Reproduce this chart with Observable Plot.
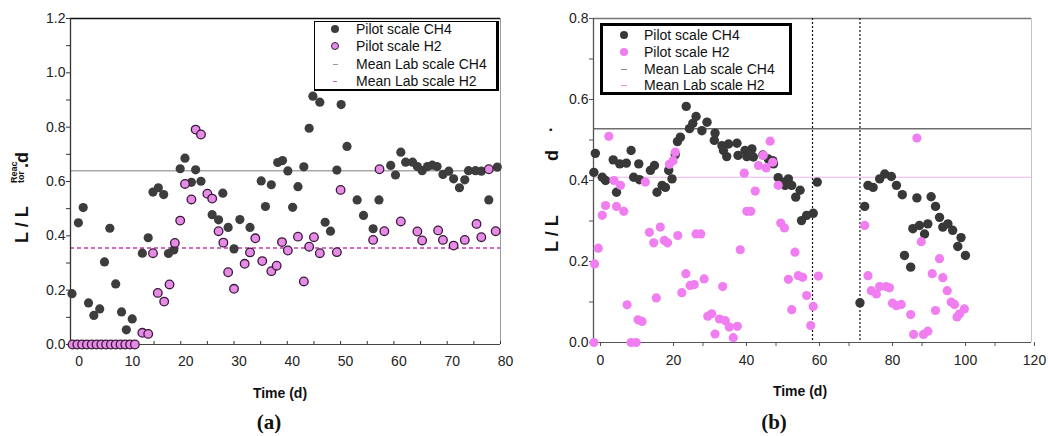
<!DOCTYPE html>
<html>
<head>
<meta charset="utf-8">
<script src="https://cdn.jsdelivr.net/npm/d3@7"></script>
<script src="https://cdn.jsdelivr.net/npm/@observablehq/plot@0.6"></script>
<style>
  body { margin:0; width:1048px; height:436px; position:relative; background:#fff; overflow:hidden; font-family:"Liberation Sans", Arial, sans-serif; }
  .abs { position:absolute; }
  .leg { position:absolute; box-sizing:border-box; background:#fff; }
  .row { position:absolute; font-size:14px; color:#111; white-space:nowrap; line-height:16px; }
  .mk { position:absolute; }
</style>
</head>
<body>
<div id="pa" class="abs" style="left:0;top:0"></div>
<div id="pb" class="abs" style="left:530px;top:0"></div>
<svg class="abs" style="left:0;top:0" width="1048" height="436" id="labels"></svg>
<script>
// ---------- Panel (a) data ----------
const aCH4Day = [-0.4,0.8,1.7,2.7,3.7,4.8,5.7,6.7,7.8,8.9,9.8,10.9,12.8,13.9,14.8,15.8,16.8,17.7,18.7,19.9,20.8,22.0,22.8,23.8,25.9,27.1,27.9,28.9,30.0,31.1,33.0,35.1,35.9,37.0,38.2,39.1,40.1,41.0,42.0,43.1,44.1,44.8,46.1,47.1,48.1,49.3,50.1,51.2,53.1,54.3,56.1,57.2,59.4,60.3,61.3,62.2,63.5,64.4,65.3,66.3,67.2,68.1,69.2,70.3,71.2,72.3,73.3,74.0,75.3,76.4,77.8,79.4];
const aCH4Val = [0.187,0.448,0.504,0.153,0.107,0.131,0.304,0.428,0.223,0.12,0.054,0.094,0.336,0.393,0.561,0.577,0.552,0.335,0.348,0.647,0.686,0.597,0.643,0.601,0.478,0.459,0.557,0.431,0.352,0.46,0.431,0.602,0.508,0.588,0.67,0.677,0.639,0.505,0.581,0.654,0.796,0.914,0.892,0.45,0.417,0.642,0.883,0.729,0.532,0.475,0.426,0.532,0.659,0.624,0.708,0.671,0.671,0.655,0.64,0.655,0.66,0.655,0.626,0.638,0.61,0.577,0.606,0.64,0.64,0.638,0.532,0.653];
const aH2Day = [-0.3,0.6,1.5,2.4,3.3,4.2,5.1,6.0,6.9,7.8,8.7,9.6,10.5,11.4,12.8,13.9,14.8,15.7,16.9,17.9,18.9,19.9,20.8,22.0,22.8,23.8,25.0,25.9,27.1,28.0,28.9,30.0,32.0,33.0,34.0,35.3,37.0,38.0,39.0,40.1,42.0,43.1,44.1,45.0,46.1,49.3,50.0,56.1,57.3,58.2,61.3,64.4,65.3,68.3,69.2,71.2,73.3,75.5,76.4,77.8,79.1];
const aH2Val = [0,0,0,0,0,0,0,0,0,0,0,0,0,0,0.043,0.039,0.336,0.19,0.158,0.221,0.374,0.456,0.591,0.534,0.791,0.773,0.555,0.537,0.417,0.375,0.266,0.205,0.297,0.339,0.391,0.307,0.27,0.29,0.377,0.346,0.397,0.232,0.36,0.395,0.336,0.34,0.569,0.385,0.645,0.417,0.453,0.416,0.383,0.42,0.385,0.364,0.385,0.444,0.395,0.645,0.417];
const aMeanLabCH4 = [0.64];
const aMeanLabH2 = [0.355];
const aXDomain = [-0.68, 80];
const aYDomain = [0, 1.2];
const aXTicks = [0,10,20,30,40,50,60,70,80];
const aXMinor = [0,5,10,15,20,25,30,35,40,45,50,55,60,65,70,75,80];
const aYTicks = [0,0.2,0.4,0.6,0.8,1.0,1.2];
const aYMinor = [0.1,0.3,0.5,0.7,0.9,1.1];

// ---------- Panel (b) data ----------
const bCH4Day = [0.1,0.5,2.4,3.3,5.4,6.3,7.2,9.0,10.3,11.0,12.4,12.6,15.6,16.7,17.4,18.8,19.7,20.6,21.5,22.4,23.0,23.8,25.4,26.3,27.2,28.1,29.7,31.1,33.1,33.3,35.2,35.6,36.5,37.0,39.3,39.6,41.5,42.0,43.4,43.8,46.4,47.9,49.1,49.3,50.6,51.6,52.5,53.4,54.3,55.4,56.6,57.0,58.4,60.2,61.3,73.0,74.3,75.2,76.6,78.4,79.8,81.6,83.0,84.6,85.2,86.9,87.5,88.6,89.3,90.7,91.6,92.5,93.7,94.8,95.7,97.1,98.4,99.8,100.7,101.9];
const bCH4Val = [0.42,0.467,0.408,0.40,0.451,0.371,0.441,0.443,0.474,0.408,0.441,0.402,0.425,0.437,0.371,0.388,0.383,0.425,0.404,0.464,0.496,0.507,0.583,0.528,0.541,0.558,0.523,0.544,0.499,0.517,0.486,0.474,0.459,0.49,0.492,0.462,0.474,0.459,0.478,0.458,0.463,0.453,0.449,0.441,0.407,0.396,0.388,0.404,0.388,0.359,0.376,0.301,0.314,0.319,0.396,0.098,0.336,0.388,0.383,0.404,0.416,0.41,0.388,0.365,0.215,0.186,0.281,0.357,0.289,0.268,0.293,0.36,0.336,0.309,0.285,0.293,0.277,0.237,0.259,0.215];
const bH2Day = [0.1,0.3,1.3,2.4,3.3,4.2,5.6,6.3,7.4,8.3,9.2,10.3,11.7,12.2,13.3,14.2,15.3,16.5,17.2,18.3,19.4,20.3,20.8,21.8,22.4,23.1,24.2,25.3,26.5,27.6,28.1,29.4,30.3,31.3,32.4,33.3,34.5,35.4,36.1,37.2,38.3,39.4,40.2,41.3,42.0,43.1,44.3,45.2,46.5,47.3,48.4,49.1,50.6,51.3,52.3,53.4,54.3,55.2,56.1,57.3,58.4,59.5,60.2,61.6,74.3,75.2,76.1,77.5,78.4,80.2,81.1,81.9,83.0,84.3,86.9,87.7,88.6,89.8,90.4,91.6,92.8,93.7,94.8,95.7,96.9,98.0,98.9,99.6,100.3,101.6];
const bH2Val = [0.0,0.194,0.233,0.314,0.338,0.509,0.40,0.336,0.388,0.324,0.093,0.0,0.0,0.056,0.052,0.396,0.272,0.246,0.11,0.285,0.252,0.246,0.44,0.449,0.47,0.264,0.123,0.17,0.141,0.143,0.268,0.268,0.157,0.065,0.071,0.021,0.058,0.138,0.054,0.038,0.012,0.04,0.229,0.418,0.324,0.324,0.374,0.437,0.462,0.431,0.497,0.445,0.388,0.295,0.283,0.156,0.081,0.223,0.165,0.161,0.116,0.042,0.089,0.164,0.289,0.165,0.128,0.12,0.138,0.138,0.135,0.097,0.091,0.094,0.069,0.02,0.505,0.249,0.02,0.028,0.17,0.079,0.207,0.16,0.128,0.1,0.094,0.063,0.071,0.083];
const bMeanLabCH4 = [0.528];
const bMeanLabH2 = [0.408];
const bPhaseDays = [60, 73];
const bXDomain = [0, 120];
const bYDomain = [0, 0.8];
const bXTicks = [0,20,40,60,80,100];
const bXLastTick = [120];
const bXMinor = [10,30,50,70,90,110];
const bYTicks = [0,0.2,0.4,0.6,0.8];
const bYMinor = [0.1,0.3,0.5,0.7];

const legendLabels = ["Pilot scale CH4","Pilot scale H2","Mean Lab scale CH4","Mean Lab scale H2"];

const zip = (d, v) => d.map((x, i) => ({day: x, val: v[i]}));
const f1 = d3.format(".1f");
const font = '"Liberation Sans", Arial, sans-serif';

// ---------- Panel (a) ----------
const plotA = Plot.plot({
  width: 530, height: 370,
  marginLeft: 70, marginRight: 30, marginTop: 18, marginBottom: 26,
  style: {fontFamily: font, fontSize: "14px", color: "#222", background: "transparent"},
  x: {domain: aXDomain},
  y: {domain: aYDomain},
  marks: [
    Plot.ruleY(aMeanLabCH4, {stroke: "#a8a8a8", strokeWidth: 1.5}),
    Plot.ruleY(aMeanLabH2, {stroke: "#c93aa9", strokeWidth: 1.5, strokeDasharray: "4,3"}),
    Plot.ruleY([aYDomain[1]], {stroke: "#111", strokeWidth: 1.6}),
    Plot.ruleX([aXDomain[1]], {stroke: "#9a9a9a", strokeWidth: 1}),
    Plot.ruleX([aXDomain[0]], {stroke: "#333", strokeWidth: 1.3}),
    Plot.ruleY([aYDomain[0]], {stroke: "#444", strokeWidth: 1.2}),
    Plot.axisY(aYTicks, {tickSize: 4, tickPadding: 1, tickFormat: f1, label: null, fontSize: 14, stroke: "#333"}),
    Plot.axisY(aYMinor, {tickSize: 4, tickFormat: () => "", label: null, stroke: "#333"}),
    Plot.axisX(aXTicks, {tickSize: 0, tickPadding: 12, dx: 5, label: null, fontSize: 14}),
    Plot.axisX(aXMinor, {tickSize: -3, tickFormat: () => "", label: null, stroke: "#333"}),
    Plot.dot(zip(aCH4Day, aCH4Val), {x: "day", y: "val", r: 4.6, fill: "#3d3d3d"}),
    Plot.dot(zip(aH2Day, aH2Val), {x: "day", y: "val", r: 4.3, fill: "#e68be6", stroke: "#3a1a3a", strokeWidth: 1.3})
  ]
});
document.getElementById("pa").appendChild(plotA);

// ---------- Panel (b) ----------
const plotB = Plot.plot({
  width: 518, height: 370,
  marginLeft: 63, marginRight: 17, marginTop: 18, marginBottom: 28,
  style: {fontFamily: font, fontSize: "14px", color: "#222", background: "transparent"},
  x: {domain: bXDomain},
  y: {domain: bYDomain},
  marks: [
    Plot.ruleY(bMeanLabCH4, {stroke: "#6e6e6e", strokeWidth: 1.5}),
    Plot.ruleY(bMeanLabH2, {stroke: "#eab4ea", strokeWidth: 1.2}),
    Plot.ruleY([bYDomain[1]], {stroke: "#777", strokeWidth: 1.5}),
    Plot.ruleX([bXDomain[1]], {stroke: "#c4c4c4", strokeWidth: 1}),
    Plot.ruleX([bXDomain[0]], {stroke: "#555", strokeWidth: 1.3}),
    Plot.ruleY([bYDomain[0]], {stroke: "#555", strokeWidth: 1.2}),
    Plot.ruleX(bPhaseDays, {stroke: "#111", strokeWidth: 1.2, strokeDasharray: "2,2"}),
    Plot.axisY(bYTicks, {tickSize: 4, tickPadding: 1, tickFormat: f1, label: null, fontSize: 14, stroke: "#555"}),
    Plot.axisY(bYMinor, {tickSize: 4, tickFormat: () => "", label: null, stroke: "#555"}),
    Plot.axisX(bXTicks, {tickSize: 4, tickPadding: 9, dx: 7, label: null, fontSize: 14, stroke: "#555"}),
    Plot.axisX(bXLastTick, {tickSize: 4, tickPadding: 9, dx: 3, label: null, fontSize: 14, stroke: "#555"}),
    Plot.axisX(bXMinor, {tickSize: 4, tickFormat: () => "", label: null, stroke: "#555"}),
    Plot.dot(zip(bCH4Day, bCH4Val), {x: "day", y: "val", r: 4.7, fill: "#383838"}),
    Plot.dot(zip(bH2Day, bH2Val), {x: "day", y: "val", r: 4.6, fill: "#f07ef0"})
  ]
});
document.getElementById("pb").appendChild(plotB);

// ---------- Legends ----------
function legend(left, top, w, h, border, rows, textLeft, markLeft, markers) {
  const box = document.createElement("div");
  box.className = "leg";
  Object.assign(box.style, {left: left + "px", top: top + "px", width: w + "px", height: h + "px"});
  Object.assign(box.style, border);
  document.body.appendChild(box);
  rows.forEach((yc, i) => {
    const r = document.createElement("div");
    r.className = "row";
    r.textContent = legendLabels[i];
    r.style.left = (textLeft - left - 1) + "px";
    r.style.top = (yc - top - 9) + "px";
    box.appendChild(r);
    const m = document.createElement("div");
    m.className = "mk";
    Object.assign(m.style, markers[i](markLeft - left, yc - top - 1));
    box.appendChild(m);
  });
}
const dotM = (fill, d, stroke) => (x, y) => ({left: (x - d/2 - 1) + "px", top: (y - d/2) + "px", width: d + "px", height: d + "px", borderRadius: "50%", background: fill, boxSizing: "border-box", border: stroke ? ("1.3px solid " + stroke) : "none"});
const dashM = (color, w) => (x, y) => ({left: (x - w/2 - 1) + "px", top: (y) + "px", width: w + "px", height: "1px", background: color});

legend(314, 21, 185, 70,
  {borderTop: "1px solid #000", borderLeft: "1px solid #000", borderRight: "3px solid #000", borderBottom: "2px solid #000"},
  [29, 46, 64, 81], 356, 335,
  [dotM("#3d3d3d", 8), dotM("#e68be6", 8, "#3a1a3a"), dashM("#9a9a9a", 5), dashM("#d060c0", 4)]);

legend(600, 23, 192, 72,
  {border: "3px solid #000"},
  [33, 50, 67, 83], 642, 622,
  [dotM("#383838", 8), dotM("#f07ef0", 8), dashM("#8a8a8a", 6), dashM("#e090e0", 6)]);

// ---------- Axis titles ----------
const svg = d3.select("#labels");
const txt = (tr, size, s, weight = "bold") => svg.append("text").attr("transform", tr)
  .attr("font-family", font).attr("font-weight", weight).attr("font-size", size).attr("fill", "#111").text(s);
// panel (a) y label: "L / L" + "Reac/tor" + ".d"
txt("translate(28,243) rotate(-90)", 18, "L / L");
txt("translate(17,183) rotate(-90)", 9, "Reac");
txt("translate(24,183) rotate(-90)", 9, "tor");
txt("translate(28,168) rotate(-90)", 18, ".d");
// panel (b) y label
txt("translate(558,252) rotate(-90)", 18, "L / L");
txt("translate(558,161) rotate(-90)", 18, "d");
txt("translate(552,132) rotate(-90)", 16, ".");
// x titles
svg.append("text").attr("x", 280).attr("y", 398).attr("text-anchor", "middle")
  .attr("font-family", font).attr("font-weight", "bold").attr("font-size", 14).attr("fill", "#111").text("Time (d)");
svg.append("text").attr("x", 800).attr("y", 396).attr("text-anchor", "middle")
  .attr("font-family", font).attr("font-weight", "bold").attr("font-size", 14).attr("fill", "#111").text("Time (d)");
svg.append("text").attr("x", 269).attr("y", 429).attr("text-anchor", "middle")
  .attr("font-family", '"Liberation Serif", "Times New Roman", serif').attr("font-weight", "bold").attr("font-size", 21).attr("fill", "#111").text("(a)");
svg.append("text").attr("x", 774).attr("y", 429).attr("text-anchor", "middle")
  .attr("font-family", '"Liberation Serif", "Times New Roman", serif').attr("font-weight", "bold").attr("font-size", 21).attr("fill", "#111").text("(b)");
</script>
</body>
</html>
